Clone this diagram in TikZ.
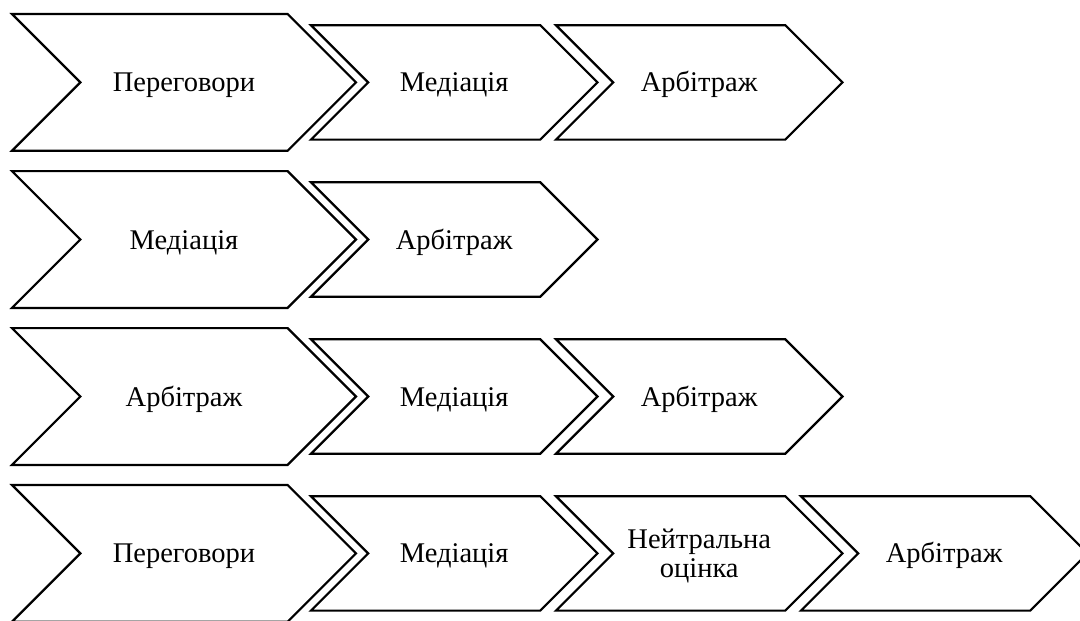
\documentclass[tikz,border=0pt]{standalone}
\usepackage{fontspec}
\setmainfont{Liberation Serif}
\tikzset{
  chevline/.style={draw=black, line width=2.2pt, line join=miter, fill=white},
  lbl/.style={anchor=base, inner sep=0pt, align=center, font=\fontsize{28.5}{29}\selectfont},
}
% #1 left x, #2 centre y, #3 total width, #4 half height (= point depth)
\newcommand{\chevshape}[4]{%
  \draw[chevline] ({#1},{#2-#4}) -- ({#1+#3-#4},{#2-#4}) -- ({#1+#3},{#2})
    -- ({#1+#3-#4},{#2+#4}) -- ({#1},{#2+#4}) -- ({#1+#4},{#2}) -- cycle;}
\begin{document}
\begin{tikzpicture}[x=1pt,y=-1pt]
\useasboundingbox (0,0) rectangle (1080,621);
\clip (0,0) rectangle (1080,621);
% row centres
\def\ra{82.4}\def\rb{239.5}\def\rc{396.5}\def\rd{553.4}
\def\LW{344}\def\LH{68.4}\def\SW{286.5}\def\SH{57.2}
% row 1
\chevshape{12}{\ra}{\LW}{\LH}
\chevshape{311}{\ra}{\SW}{\SH}
\chevshape{556}{\ra}{\SW}{\SH}
\node[lbl] (r1a) at (184,{\ra+9.5}) {Переговори};
\node[lbl] (r1b) at (454.2,{\ra+9.5}) {Медіація};
\node[lbl] (r1c) at (699.2,{\ra+9.5}) {Арбітраж};
% row 2
\chevshape{12}{\rb}{\LW}{\LH}
\chevshape{311}{\rb}{\SW}{\SH}
\node[lbl] (r2a) at (184,{\rb+9.5}) {Медіація};
\node[lbl] (r2b) at (454.2,{\rb+9.5}) {Арбітраж};
% row 3
\chevshape{12}{\rc}{\LW}{\LH}
\chevshape{311}{\rc}{\SW}{\SH}
\chevshape{556}{\rc}{\SW}{\SH}
\node[lbl] (r3a) at (184,{\rc+9.5}) {Арбітраж};
\node[lbl] (r3b) at (454.2,{\rc+9.5}) {Медіація};
\node[lbl] (r3c) at (699.2,{\rc+9.5}) {Арбітраж};
% row 4
\chevshape{12}{\rd}{\LW}{\LH}
\chevshape{311}{\rd}{\SW}{\SH}
\chevshape{556}{\rd}{\SW}{\SH}
\chevshape{801}{\rd}{\SW}{\SH}
\node[lbl] (r4a) at (184,{\rd+9.5}) {Переговори};
\node[lbl] (r4b) at (454.2,{\rd+9.5}) {Медіація};
\node[lbl] (r4c) at (699.2,{\rd+24}) {Нейтральна\\оцінка};
\node[lbl] (r4d) at (944.2,{\rd+9.5}) {Арбітраж};
\end{tikzpicture}
\end{document}
